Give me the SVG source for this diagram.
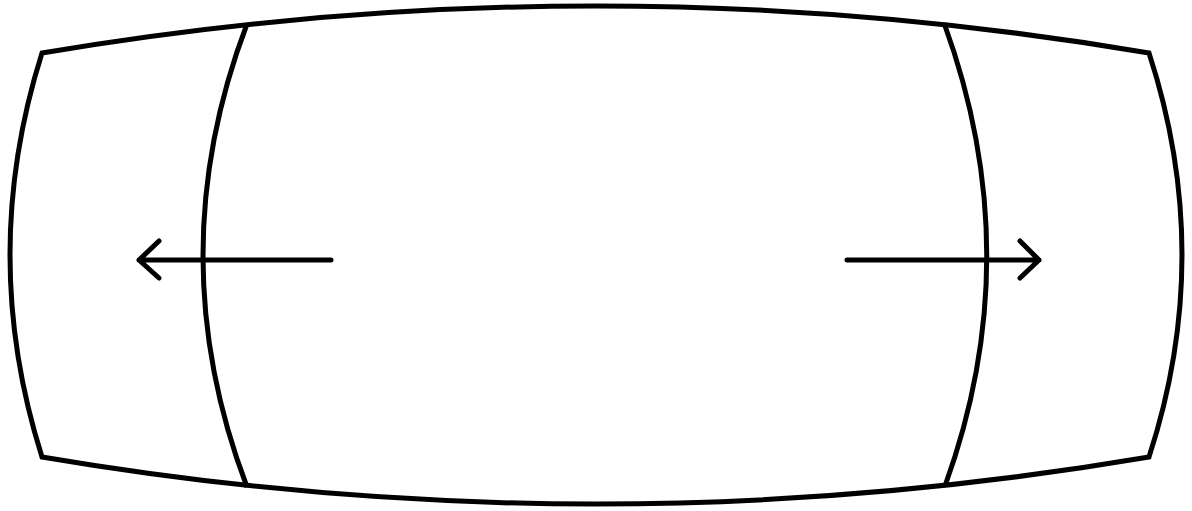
<svg xmlns="http://www.w3.org/2000/svg" width="1192" height="511" viewBox="0 0 1192 511">
<style>
.s{fill:none;stroke:#000;stroke-width:5;stroke-linejoin:miter}
.a{fill:none;stroke:#000;stroke-width:5;stroke-linecap:round;stroke-linejoin:round}
</style>
<rect width="1192" height="511" fill="#fff"/>
<g id="outer">
<path class="s" d="M42,53 Q595.5,-41 1149,53 Q1215,255 1149,457 Q595.5,551 42,457 Q-22,255 42,53 Z"/>
</g>
<g id="inner-left">
<path class="s" d="M247,24 Q159,255.5 247,487"/>
</g>
<g id="inner-right">
<path class="s" d="M944,23 Q1029,255 945,486"/>
</g>
<g id="connectors">
<path class="a" d="M331,260 L139,260 M159,241 L139,260 L159,278"/>
<path class="a" d="M847,260 L1039,260 M1020,241 L1039,260 L1020,278"/>
</g>
</svg>
